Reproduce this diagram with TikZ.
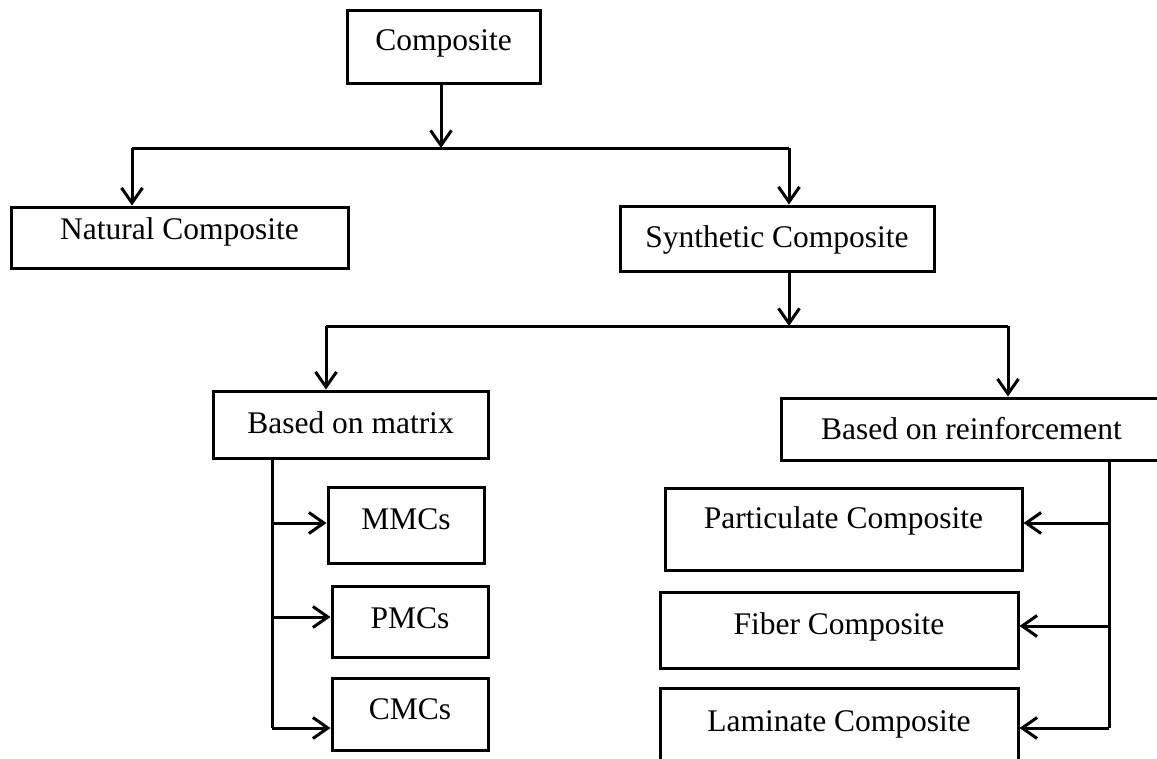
\documentclass[tikz,border=0pt]{standalone}
\usepackage{fontspec}
\setmainfont{Liberation Serif}
\usetikzlibrary{arrows.meta}

\tikzset{
  box/.style={draw, line width=3pt, inner sep=0pt, align=center,
    font=\fontsize{31.5}{36}\selectfont, text height=21pt, text depth=12pt},
  link/.style={line width=3pt},
  arr/.style={link, -{Straight Barb[length=15pt,width=21pt,line width=3pt]}},
}

% rectangle node from its edges: name, left, top, right, bottom, text depth, text
\newcommand\boxnode[7]{%
  \node[box, minimum width={#4-#2}, minimum height={#5-#3}, text depth=#6pt]
    (#1) at ({(#2+#4)/2},{(#3+#5)/2}) {#7};}

\begin{document}
\begin{tikzpicture}[x=1pt, y=-1pt]
\useasboundingbox (0,0) rectangle (1157,758);
\clip (0,0) rectangle (1157,758);

% boxes
\boxnode{comp}{347}{10}{540}{83}{13}{Composite}
\boxnode{nat}{11}{207}{348}{268}{17}{Natural Composite}
\boxnode{syn}{620}{206}{934}{271}{3}{Synthetic Composite}
\boxnode{mat}{213}{391}{488}{458}{4}{Based on matrix}
\boxnode{rein}{781}{398}{1162}{460}{0}{Based on reinforcement}
\boxnode{mmc}{328}{487}{484}{563}{12}{MMCs}
\boxnode{pmc}{332}{586}{488}{657}{7}{PMCs}
\boxnode{cmc}{332}{678}{488}{750}{10}{CMCs}
\boxnode{part}{665}{488}{1022}{570}{23}{Particulate Composite}
\boxnode{fib}{660}{592}{1018}{668}{13}{Fiber Composite}
\boxnode{lam}{660}{688}{1018}{772}{18}{Laminate Composite}

% junction points
\coordinate (j1) at (441,148);
\coordinate (jL) at (132,148);
\coordinate (jR) at (789,148);
\coordinate (j2) at (789,326);
\coordinate (kL) at (326,326);
\coordinate (kR) at (1008,326);
\coordinate (tm) at (272,458);
\coordinate (tr) at (1109,460);

% first level
\draw[arr] (comp.south -| j1) -- (j1);
\draw[link] (jL) -- (jR);
\draw[arr] (jL) -- (jL |- nat.north);
\draw[arr] (jR) -- (jR |- syn.north);

% second level
\draw[arr] (syn.south -| j2) -- (j2);
\draw[link] (kL) -- (kR);
\draw[arr] (kL) -- (kL |- mat.north);
\draw[arr] (kR) -- (kR |- rein.north);

% matrix branch
\draw[link] (tm) -- (272,728);
\draw[arr] (272,523) -- (mmc.west |- 0,523);
\draw[arr] (272,617) -- (pmc.west |- 0,617);
\draw[arr] (272,728) -- (cmc.west |- 0,728);

% reinforcement branch
\draw[link] (tr) -- (1109,728);
\draw[arr] (1109,523) -- (part.east |- 0,523);
\draw[arr] (1109,626) -- (fib.east |- 0,626);
\draw[arr] (1109,728) -- (lam.east |- 0,728);
\end{tikzpicture}
\end{document}
